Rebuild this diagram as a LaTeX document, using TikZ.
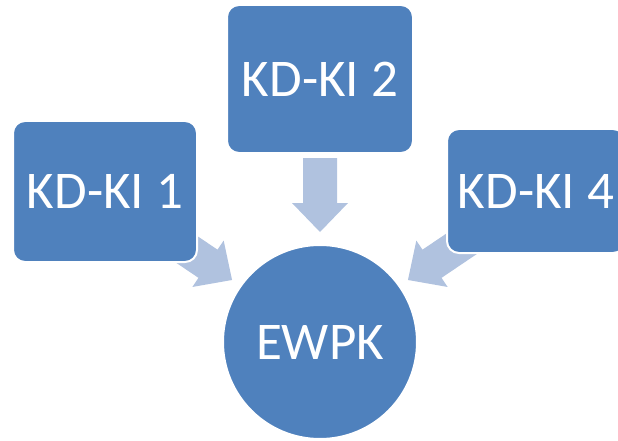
\documentclass[tikz,border=0pt]{standalone}
\usepackage{fontspec}
\setmainfont{Carlito}
\usetikzlibrary{backgrounds}
\definecolor{boxblue}{HTML}{4F81BD}
\definecolor{arrowblue}{HTML}{B0C2DF}
\begin{document}
\begin{tikzpicture}[x=1pt,y=-1pt,
  kbox/.style={draw=white, line width=2pt, fill=boxblue, rounded corners=12pt,
    text=white, font=\fontsize{53}{60}\selectfont, inner sep=0pt},
  kcirc/.style={circle, draw=white, line width=2pt, fill=boxblue, text=white,
    font=\fontsize{53}{60}\selectfont, minimum size=194pt, inner sep=0pt},
  barrow/.style={fill=arrowblue}]
\useasboundingbox (0,0) rectangle (618,441);
\clip (0,0) rectangle (618,441);
% nodes
\node[kbox, minimum width=184pt, minimum height=141pt] (k1) at (105,191.5) {KD-KI 1};
\node[kbox, minimum width=186pt, minimum height=148pt] (k2) at (320,79) {KD-KI 2};
\node[kbox, minimum width=178pt, minimum height=124pt] (k4) at (536,191) {KD-KI 4};
\node[kcirc] (e) at (320,342) {EWPK};
% arrow tails (hidden under the boxes)
\coordinate (a1) at (170.7,238.6);
\coordinate (a2) at (320,158);
\coordinate (a4) at (469.3,238.6);
\begin{pgfonlayer}{background}
\begin{scope}[shift={(a1)}, rotate=-34]
  \fill[barrow] (0,17) -- (45,17) -- (45,28) -- (74,0) -- (45,-28) -- (45,-17) -- (0,-17) -- cycle;
\end{scope}
\begin{scope}[shift={(a2)}, rotate=-90]
  \fill[barrow] (0,17) -- (45,17) -- (45,28) -- (74,0) -- (45,-28) -- (45,-17) -- (0,-17) -- cycle;
\end{scope}
\begin{scope}[shift={(a4)}, rotate=-146]
  \fill[barrow] (0,17) -- (45,17) -- (45,28) -- (74,0) -- (45,-28) -- (45,-17) -- (0,-17) -- cycle;
\end{scope}
\end{pgfonlayer}
\end{tikzpicture}
\end{document}
